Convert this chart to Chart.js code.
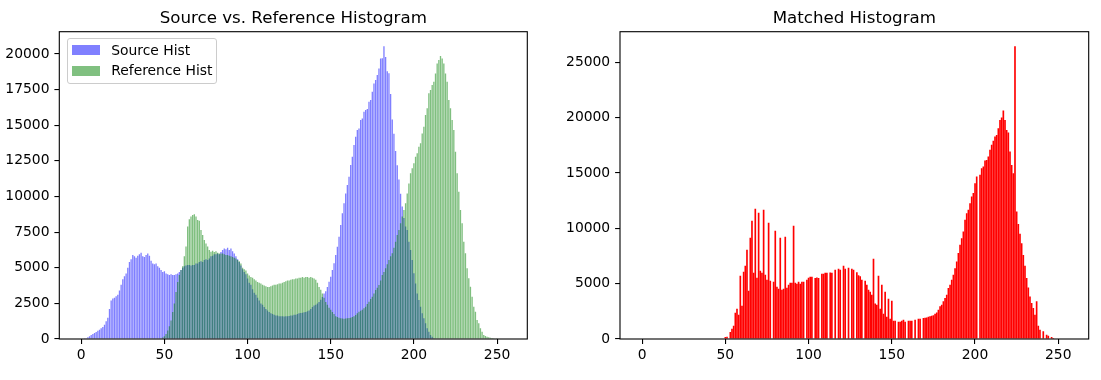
<!DOCTYPE html>
<html>
<head>
<meta charset="utf-8">
<script src="https://cdn.jsdelivr.net/npm/chart.js@4.4.1/dist/chart.umd.min.js"></script>
<style>
  body { margin: 0; background: #fff; font-family: "DejaVu Sans", sans-serif; }
  #fig { position: relative; width: 1101px; height: 380px; overflow: hidden; }
  canvas { position: absolute; top: 0; }
  .title { position: absolute; top: 7.6px; font-size: 16.67px; line-height: 20px; white-space: nowrap; transform: translateX(-50%); color: #000; }
  .legend { position: absolute; left: 66.7px; top: 38.3px; width: 150.6px; height: 45.7px; box-sizing: border-box;
            border: 1px solid #cccccc; border-radius: 3px; background: rgba(255,255,255,0.8); }
  .swatch { position: absolute; left: 4.6px; width: 27.8px; height: 9.7px; }
  .label { position: absolute; left: 43.5px; font-size: 13.89px; line-height: 16px; white-space: nowrap; color: #000; }
</style>
</head>
<body>
<div id="fig">
  <canvas id="left" width="560" height="380" style="left:0"></canvas>
  <canvas id="right" width="541" height="380" style="left:560px"></canvas>
  <div class="title" style="left:293.3px">Source vs. Reference Histogram</div>
  <div class="title" style="left:854.3px">Matched Histogram</div>
  <div class="legend">
    <div class="swatch" style="top:5.9px; background:#8080ff"></div>
    <div class="label" style="top:3px">Source Hist</div>
    <div class="swatch" style="top:26.6px; background:#80c080"></div>
    <div class="label" style="top:22.9px">Reference Hist</div>
  </div>
</div>
<script>
// pixel value bins 0..255
const bins = Array.from({ length: 256 }, (_, i) => i);

const sourceHist = [
  0, 0, 20, 60, 120, 200, 280, 350, 420, 500, 580, 650, 750, 850, 1000, 1250,
  1500, 2100, 2700, 2850, 2900, 3000, 3100, 3400, 3800, 4200, 4400, 4600, 5000, 5400, 5600, 5900,
  5800, 5700, 5850, 5950, 6050, 5800, 5750, 5900, 6000, 5850, 5500, 5300, 5250, 5300, 5100, 5000,
  4850, 4700, 4750, 4600, 4550, 4500, 4550, 4500, 4500, 4550, 4600, 4700, 4850, 5000, 5100, 5150,
  5200, 5200, 5150, 5200, 5200, 5300, 5300, 5400, 5450, 5400, 5550, 5600, 5550, 5650, 5800, 5850,
  5950, 5950, 6000, 5950, 6100, 6250, 6350, 6300, 6400, 6250, 6350, 6150, 6000, 5800, 5600, 5400,
  5150, 4900, 4700, 4550, 4250, 3950, 3800, 3500, 3250, 3100, 2900, 2700, 2500, 2400, 2250, 2100,
  2000, 1900, 1800, 1750, 1700, 1650, 1650, 1600, 1600, 1600, 1580, 1600, 1600, 1620, 1650, 1650,
  1700, 1700, 1750, 1800, 1820, 1850, 1880, 1900, 1950, 2000, 2100, 2250, 2350, 2400, 2500, 2600,
  2750, 2950, 3200, 3350, 3650, 4020, 4370, 4840, 5310, 5890, 6480, 7180, 8000, 8820, 9520, 10220,
  10810, 11390, 12210, 12790, 13610, 14200, 14670, 14780, 15370, 15480, 15950, 16070, 16140, 16650, 16770, 17360,
  17940, 18170, 18530, 18990, 19690, 19700, 20540, 19800, 18800, 18650, 17200, 15400, 14400, 13200, 12200, 11200,
  10200, 9300, 8500, 7900, 7650, 6830, 6250, 5540, 4610, 3900, 3200, 2740, 2270, 1800, 1450, 1100,
  750, 510, 280, 160, 60, 30, 0, 0, 0, 0, 0, 0, 0, 0, 0, 0,
  0, 0, 0, 0, 0, 0, 0, 0, 0, 0, 0, 0, 0, 0, 0, 0,
  0, 0, 0, 0, 0, 0, 0, 0, 0, 0, 0, 0, 0, 0, 0, 0
];

const referenceHist = [
  0, 0, 0, 0, 0, 0, 0, 0, 0, 0, 0, 0, 0, 0, 0, 0,
  0, 0, 0, 0, 0, 0, 0, 0, 0, 0, 0, 0, 0, 0, 0, 0,
  0, 0, 0, 0, 0, 0, 0, 0, 0, 0, 0, 0, 0, 0, 0, 0,
  0, 100, 200, 350, 600, 900, 1300, 1900, 2500, 3300, 4000, 4500, 4850, 5100, 5800, 6500,
  7900, 8400, 8600, 8700, 8750, 8600, 8350, 8300, 7650, 7300, 6950, 6700, 6500, 6250, 6130, 6200,
  6100, 6150, 6050, 6000, 6000, 6000, 5950, 5900, 5900, 5850, 5800, 5750, 5700, 5650, 5550, 5450,
  5300, 5000, 4900, 4800, 4600, 4450, 4350, 4300, 4200, 4100, 4000, 3950, 3900, 3800, 3750, 3700,
  3650, 3650, 3700, 3750, 3800, 3800, 3850, 3900, 3900, 3950, 4000, 4050, 4100, 4100, 4150, 4200,
  4200, 4250, 4250, 4300, 4300, 4350, 4300, 4350, 4350, 4300, 4350, 4300, 4250, 4150, 3950, 3650,
  3450, 3200, 2900, 2600, 2400, 2200, 2050, 1900, 1750, 1600, 1550, 1500, 1450, 1430, 1420, 1430,
  1450, 1480, 1500, 1550, 1600, 1680, 1800, 1920, 1980, 2050, 2150, 2270, 2450, 2620, 2800, 2970,
  3200, 3440, 3600, 3790, 4100, 4490, 4700, 4960, 5250, 5540, 5800, 6010, 6400, 6830, 7300, 7650,
  8120, 8600, 9050, 9520, 10220, 10920, 11630, 11980, 12330, 12790, 13030, 13500, 13730, 14430, 14900, 15720,
  16190, 17240, 17470, 17820, 18060, 18640, 19340, 19580, 19860, 19690, 19340, 18640, 18060, 16770, 16190, 15370,
  14670, 13150, 11630, 10340, 9050, 8120, 6830, 6010, 4960, 4260, 3670, 2970, 2270, 1920, 1330, 1100,
  750, 510, 280, 210, 160, 120, 90, 70, 50, 30, 20, 0, 0, 0, 0, 0
];

const matchedHist = [
  0, 0, 0, 0, 0, 0, 0, 0, 0, 0, 0, 0, 0, 0, 0, 0,
  0, 0, 0, 0, 0, 0, 0, 0, 0, 0, 0, 0, 0, 0, 0, 0,
  0, 0, 0, 0, 0, 0, 0, 0, 0, 0, 0, 0, 0, 0, 0, 0,
  0, 0, 180, 210, 0, 630, 930, 1200, 2380, 2740, 2200, 5720, 3010, 6080, 6620, 8060,
  4360, 9140, 10680, 5990, 11760, 5530, 11400, 6170, 5990, 11670, 5810, 5350, 10500, 5260, 0, 5170,
  9780, 4720, 4540, 9140, 4450, 4540, 9230, 4630, 4900, 5080, 5080, 10230, 5080, 4990, 5170, 4990,
  5170, 5170, 0, 5350, 5530, 5620, 5620, 0, 5500, 5560, 5500, 0, 5900, 5900, 5990, 5990,
  0, 6000, 5990, 0, 6260, 0, 6350, 6260, 0, 6620, 6350, 0, 6440, 0, 6350, 6260,
  0, 6020, 5750, 5680, 5350, 0, 5260, 4900, 4450, 4270, 4000, 7250, 3200, 3100, 5720, 2740,
  4900, 2290, 4270, 2020, 3640, 1830, 3460, 1650, 1650, 0, 1560, 1560, 1650, 1740, 1560, 0,
  1650, 1650, 1650, 0, 1740, 0, 1830, 1830, 0, 1900, 1925, 1950, 2000, 2050, 2100, 2150,
  2290, 2400, 2650, 2950, 3100, 3400, 3700, 4000, 4600, 4900, 5350, 5800, 6400, 7000, 7760, 8510,
  9110, 9720, 10770, 11370, 11670, 12270, 12870, 13180, 14080, 14680, 0, 14830, 15430, 15580, 16120, 16180,
  16480, 17090, 17540, 17900, 18290, 18440, 19040, 19790, 20000, 20640, 19790, 18890, 18650, 16940, 15730, 14980,
  26440, 11520, 10380, 9500, 8660, 7580, 6620, 5500, 4660, 3850, 3250, 2800, 2200, 3400, 1200, 840,
  0, 690, 0, 390, 300, 0, 180, 90, 0, 0, 0, 0, 0, 0, 0, 0
];

const xTicks = [0, 50, 100, 150, 200, 250];
const yTicksLeft = [0, 2500, 5000, 7500, 10000, 12500, 15000, 17500, 20000];
const yTicksRight = [0, 5000, 10000, 15000, 20000, 25000];

Chart.defaults.font.family = '"DejaVu Sans", sans-serif';
Chart.defaults.font.size = 13.89;
Chart.defaults.color = '#000';

// full box around the axes, like matplotlib spines
const framePlugin = {
  id: 'frame',
  afterDraw(chart) {
    const { ctx, chartArea: a } = chart;
    ctx.save();
    ctx.strokeStyle = '#000';
    ctx.lineWidth = 1.1;
    ctx.strokeRect(a.left, a.top, a.right - a.left, a.bottom - a.top);
    ctx.restore();
  }
};

function histChart(id, datasets, box, xMin, xMax, yMax, yTicks) {
  const tickGrid = { offset: false, drawOnChartArea: false, color: '#000', lineWidth: 1.1, tickLength: 4.9 };
  return new Chart(document.getElementById(id), {
    type: 'bar',
    data: { labels: bins, datasets: datasets },
    options: {
      responsive: false,
      animation: false,
      events: [],
      layout: { padding: { left: 0, right: box.right, top: 31.7, bottom: 0 } },
      plugins: { legend: { display: false }, tooltip: { enabled: false }, title: { display: false } },
      scales: {
        x: {
          type: 'linear', min: xMin, max: xMax, offset: false,
          grid: tickGrid,
          border: { display: false },
          ticks: { padding: 3, maxRotation: 0, autoSkip: false, callback: v => String(v) },
          afterBuildTicks: s => { s.ticks = xTicks.map(v => ({ value: v })); },
          afterFit: s => { s.height = 41; }
        },
        y: {
          min: 0, max: yMax,
          grid: tickGrid,
          border: { display: false },
          ticks: { padding: 4.9, callback: v => String(v) },
          afterBuildTicks: s => { s.ticks = yTicks.map(v => ({ value: v })); },
          afterFit: s => { s.width = box.left; }
        }
      }
    },
    plugins: [framePlugin]
  });
}

histChart('left', [
  { label: 'Source Hist', data: sourceHist, backgroundColor: 'rgba(0,0,255,0.5)', borderWidth: 0, inflateAmount: 0,
    barPercentage: 0.8, categoryPercentage: 1, grouped: false, order: 2 },
  { label: 'Reference Hist', data: referenceHist, backgroundColor: 'rgba(0,128,0,0.5)', borderWidth: 0, inflateAmount: 0,
    barPercentage: 0.8, categoryPercentage: 1, grouped: false, order: 1 }
], { left: 59.3, right: 32.7 }, -13.18, 268.18, Math.max(...sourceHist, ...referenceHist) * 1.05, yTicksLeft);

histChart('right', [
  { label: 'Matched Hist', data: matchedHist, backgroundColor: '#ff0000', borderWidth: 0, inflateAmount: 0,
    barPercentage: 1, categoryPercentage: 1 }
], { left: 60, right: 12.3 }, -13.28, 268.28, Math.max(...matchedHist) * 1.05, yTicksRight);
</script>
</body>
</html>
